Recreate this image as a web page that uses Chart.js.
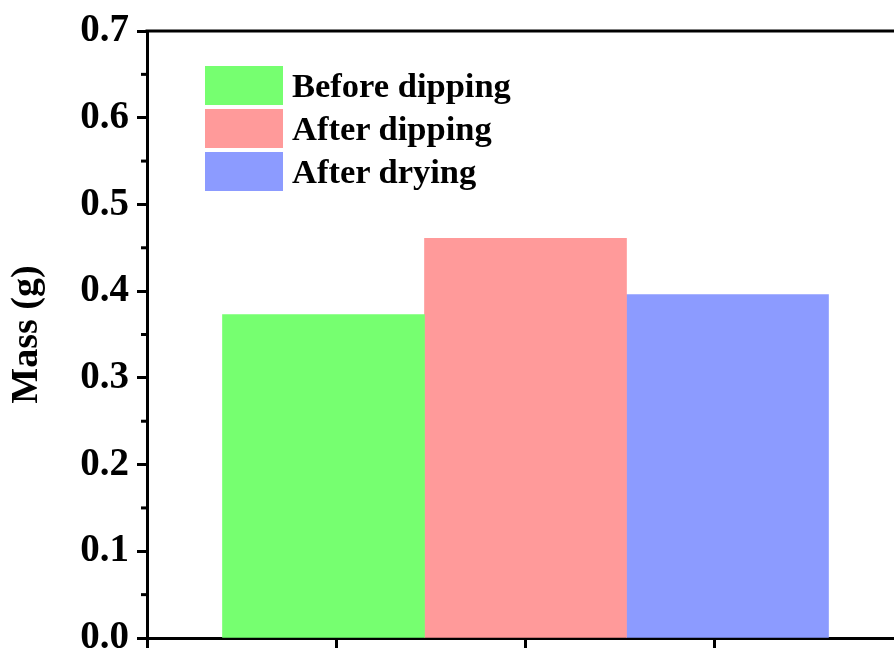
<!DOCTYPE html>
<html lang="en">
<head>
    <meta charset="UTF-8">
    <title>Mass (g)</title>
    <script src="https://cdn.jsdelivr.net/npm/chart.js"></script>
    <style>
        html, body {
            margin: 0;
            padding: 0;
            background: #fff;
            overflow: hidden;
        }
        .wrap {
            position: relative;
            width: 912px;
            height: 654px;
        }
        #legend {
            position: absolute;
            left: 205px;
            top: 66px;
            font-family: "Liberation Serif", "Times New Roman", serif;
            font-weight: bold;
            font-size: 34.5px;
            color: #000;
        }
        #legend .item {
            display: flex;
            align-items: center;
            height: 39px;
            margin-bottom: 4px;
        }
        #legend .box {
            width: 78px;
            height: 39px;
            margin-right: 9px;
        }
    </style>
</head>
<body>
    <div class="wrap">
        <canvas id="grafico" width="912" height="654"></canvas>
        <div id="legend"></div>
    </div>

    <script>
        // datos
        const series = ["Before dipping", "After dipping", "After drying"];
        const masses = [0.373, 0.461, 0.396];
        const colors = ["#76FF70", "#FF9A9A", "#8C9BFF"];
        const groupPos = 2;          // the single sample group sits at x = 2
        const yTicks = [0, 0.1, 0.2, 0.3, 0.4, 0.5, 0.6, 0.7];
        const yMinor = [0.05, 0.15, 0.25, 0.35, 0.45, 0.55, 0.65];

        const fontFam = "'Liberation Serif', 'Times New Roman', serif";

        // leyenda en HTML
        const legend = document.getElementById("legend");
        series.forEach((name, i) => {
            const item = document.createElement("div");
            item.className = "item";
            item.innerHTML = `<span class="box" style="background:${colors[i]}"></span><span>${name}</span>`;
            legend.appendChild(item);
        });

        // marco superior/derecho y ticks menores
        const framePlugin = {
            id: "frame",
            afterDraw(chart) {
                const { ctx, chartArea: a, scales } = chart;
                ctx.save();
                ctx.strokeStyle = "#000";
                ctx.lineWidth = 3;
                ctx.beginPath();
                ctx.moveTo(a.left - 1.5, a.top);
                ctx.lineTo(a.right, a.top);
                ctx.lineTo(a.right, a.bottom);
                ctx.stroke();
                // minor ticks on y
                yMinor.forEach(v => {
                    const y = scales.y.getPixelForValue(v);
                    ctx.beginPath();
                    ctx.moveTo(a.left - 6, y);
                    ctx.lineTo(a.left, y);
                    ctx.stroke();
                });
                ctx.restore();
            }
        };

        const ctx = document.getElementById("grafico").getContext("2d");
        new Chart(ctx, {
            type: "bar",
            data: {
                datasets: series.map((name, i) => ({
                    label: name,
                    data: [{ x: groupPos, y: masses[i] }],
                    backgroundColor: colors[i],
                    borderWidth: 0,
                    barThickness: 202,
                })),
            },
            plugins: [framePlugin],
            options: {
                responsive: false,
                animation: false,
                layout: {
                    padding: { top: 31, right: 8, left: 0, bottom: 0 },
                },
                plugins: {
                    legend: { display: false },
                    tooltip: { enabled: false },
                },
                scales: {
                    x: {
                        type: "linear",
                        min: 0,
                        max: 4,
                        offset: false,
                        ticks: { stepSize: 1, display: false },
                        grid: {
                            offset: false,
                            drawOnChartArea: false,
                            tickLength: 10,
                            tickWidth: 3,
                            tickColor: "#000",
                        },
                        border: { color: "#000", width: 3 },
                        afterFit(scale) { scale.height = 16; },
                    },
                    y: {
                        min: 0,
                        max: 0.7,
                        afterBuildTicks(scale) {
                            scale.ticks = yTicks.map(v => ({ value: v }));
                        },
                        ticks: {
                            color: "#000",
                            padding: 8,
                            font: { family: fontFam, size: 39, weight: "bold" },
                            callback: v => v.toFixed(1),
                        },
                        grid: {
                            drawOnChartArea: false,
                            tickLength: 10,
                            tickWidth: 3,
                            tickColor: "#000",
                        },
                        border: { color: "#000", width: 3 },
                        title: {
                            display: true,
                            text: "Mass (g)",
                            color: "#000",
                            font: { family: fontFam, size: 38, weight: "bold" },
                            padding: { top: 4, bottom: 4 },
                        },
                        afterFit(scale) {
                            scale.width = 147;
                            scale.paddingTop = 0;
                            scale.paddingBottom = 0;
                        },
                    },
                },
            },
        });
    </script>
</body>
</html>
